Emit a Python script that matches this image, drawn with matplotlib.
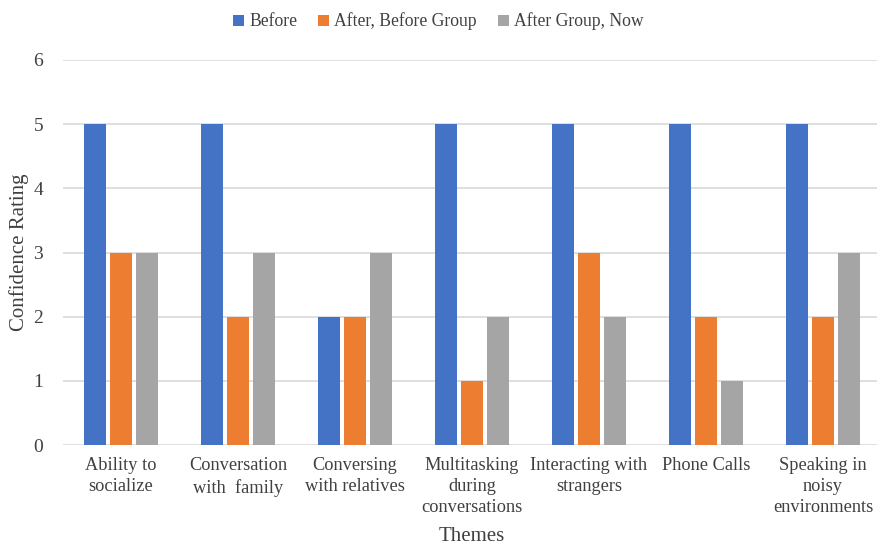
import matplotlib
matplotlib.use("Agg")
import matplotlib.pyplot as plt
import numpy as np

categories = [
    "Ability to\nsocialize",
    "Conversation\nwith  family",
    "Conversing\nwith relatives",
    "Multitasking\nduring\nconversations",
    "Interacting with\nstrangers",
    "Phone Calls",
    "Speaking in\nnoisy\nenvironments",
]
series_names = ["Before", "After, Before Group", "After Group, Now"]
before = [5, 5, 2, 5, 5, 5, 5]
after_before_group = [3, 2, 2, 1, 3, 2, 2]
after_group_now = [3, 3, 3, 2, 2, 1, 3]
colors = ["#4472C4", "#ED7D31", "#A5A5A5"]

plt.rcParams["font.family"] = ["Liberation Serif", "DejaVu Serif"]

W, H = 877, 549
fig = plt.figure(figsize=(W / 100, H / 100), dpi=100)
ax = fig.add_axes([62.5 / W, (H - 445) / H, 819 / W, 385 / H])

x = np.arange(len(categories))
width = 0.188
step = 0.226
for i, (vals, name, c) in enumerate(zip([before, after_before_group, after_group_now],
                                         series_names, colors)):
    ax.bar(x + (i - 1) * step, vals, width, color=c, label=name, zorder=3)

ax.set_xlim(-0.5, len(categories) - 0.5)
ax.set_ylim(0, 6)
ax.set_yticks(range(0, 7))
ax.grid(axis="y", color="#D9D9D9", linewidth=1.2, zorder=0)
for s in ax.spines.values():
    s.set_visible(False)
ax.tick_params(axis="both", length=0, colors="#404040")
ax.tick_params(axis="y", pad=14, labelsize=14)
ax.tick_params(axis="x", pad=9, labelsize=13.2)
ax.set_xticks(x)
ax.set_xticklabels(categories, linespacing=1.3)

ax.set_ylabel("Confidence Rating", fontsize=15, color="#404040")
ax.yaxis.set_label_coords(-0.041, 0.5)
ax.set_xlabel("Themes", fontsize=15, color="#404040", labelpad=8)

fig.legend(loc="upper center", bbox_to_anchor=(0.5, 1.006), ncol=3, frameon=False,
           fontsize=12.7, handlelength=0.6, handleheight=0.6, handletextpad=0.3,
           columnspacing=1.2, labelcolor="#404040")

fig.savefig("out.png", dpi=100)
